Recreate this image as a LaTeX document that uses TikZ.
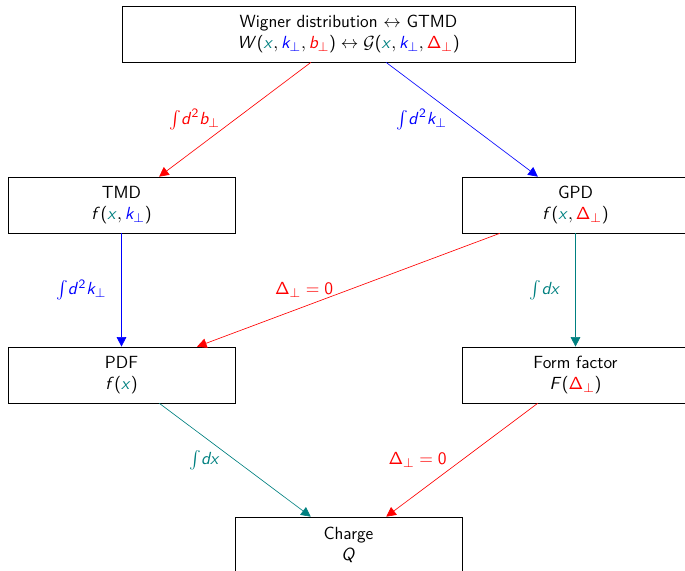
\documentclass[tikz,border=0pt]{standalone}
\usepackage{amsmath,amssymb}
\usepackage{xcolor}
\usetikzlibrary{arrows.meta}

% sans serif math letters
\DeclareSymbolFont{sfit}{OT1}{cmss}{m}{sl}
\DeclareSymbolFont{sfup}{OT1}{cmss}{m}{n}
\DeclareMathSymbol{W}{\mathalpha}{sfit}{`W}
\DeclareMathSymbol{F}{\mathalpha}{sfit}{`F}
\DeclareMathSymbol{Q}{\mathalpha}{sfit}{`Q}
\DeclareMathSymbol{x}{\mathalpha}{sfit}{`x}
\DeclareMathSymbol{k}{\mathalpha}{sfit}{`k}
\DeclareMathSymbol{b}{\mathalpha}{sfit}{`b}
\DeclareMathSymbol{f}{\mathalpha}{sfit}{`f}
\DeclareMathSymbol{d}{\mathalpha}{sfit}{`d}
\DeclareMathSymbol{0}{\mathord}{sfup}{`0}
\DeclareMathSymbol{2}{\mathord}{sfup}{`2}
\DeclareMathSymbol{(}{\mathopen}{sfup}{`(}
\DeclareMathSymbol{)}{\mathclose}{sfup}{`)}
\DeclareMathSymbol{\Delta}{\mathalpha}{sfup}{"01}

\newcommand{\xv}{\textcolor{teal}{x}}
\newcommand{\kv}{\textcolor{blue}{k_\perp}}
\newcommand{\bv}{\textcolor{red}{b_\perp}}
\newcommand{\Dv}{\textcolor{red}{\Delta_\perp}}

\begin{document}
\begin{tikzpicture}[x=0.625pt,y=-0.625pt,font=\sffamily\fontsize{11}{13.6}\selectfont,
    dist/.style={draw,align=center,minimum width=141.9pt,minimum height=35pt,inner sep=2pt},
    flow/.style={-{Triangle[length=6pt,width=6pt]}}]
  \useasboundingbox (0,0) rectangle (685,571);
  \node[dist,minimum width=283.1pt] (wig) at (348.5,34)
    {Wigner distribution $\leftrightarrow$ GTMD\\
     $W(\xv,\kv,\bv)\leftrightarrow\mathcal{G}(\xv,\kv,\Dv)$};
  \node[dist] (tmd) at (121.5,205) {TMD\\ $f(\xv,\kv)$};
  \node[dist] (gpd) at (575.5,205) {GPD\\ $f(\xv,\Dv)$};
  \node[dist] (pdf) at (121.5,375) {PDF\\ $f(\xv)$};
  \node[dist] (ff) at (575.5,375) {Form factor\\ $F(\Dv)$};
  \node[dist] (chg) at (348.5,545) {Charge\\ $Q$};

  \draw[flow,red] (wig) -- (tmd) node[midway,left=6pt] {$\int\! d^2 b_\perp$};
  \draw[flow,blue] (wig) -- (gpd) node[midway,left=6pt] {$\int\! d^2 k_\perp$};
  \draw[flow,blue] (tmd) -- (pdf) node[midway,left=6pt] {$\int\! d^2 k_\perp$};
  \draw[flow,red] (gpd) -- (pdf) node[midway,left=6pt] {$\Delta_\perp=0$};
  \draw[flow,teal] (gpd) -- (ff) node[midway,left=6pt] {$\int\! dx$};
  \draw[flow,teal] (pdf) -- (chg) node[midway,left=6pt] {$\int\! dx$};
  \draw[flow,red] (ff) -- (chg) node[midway,left=6pt] {$\Delta_\perp=0$};
\end{tikzpicture}
\end{document}
